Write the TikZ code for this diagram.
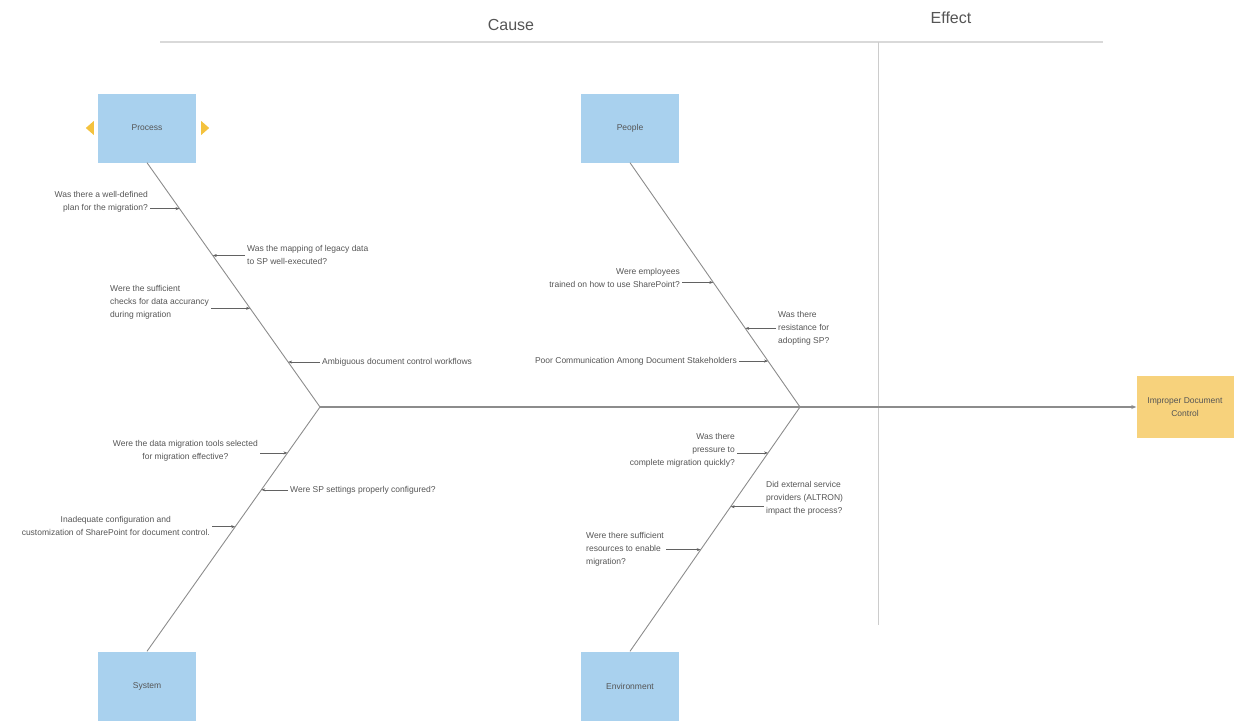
\documentclass[tikz,border=0pt]{standalone}
\usepackage{fontspec}
\setmainfont{Liberation Sans}
\usetikzlibrary{arrows.meta}
\definecolor{boxblue}{HTML}{A9D1EE}
\definecolor{boxorange}{HTML}{F7D27C}
\definecolor{tipyellow}{HTML}{F4C23E}
\definecolor{txtgray}{HTML}{555555}
\definecolor{linegray}{HTML}{8C8C8C}
\tikzset{
    catbox/.style={fill=boxblue,minimum width=98pt,minimum height=69pt,font=\fontsize{8.5}{13}\selectfont,text=txtgray},
    effbox/.style={fill=boxorange,minimum width=97pt,minimum height=62pt,align=center,font=\fontsize{8.5}{13}\selectfont,text=txtgray},
    causetext/.style={font=\fontsize{8.5}{13}\selectfont,text=txtgray,inner sep=2pt},
    headtext/.style={font=\fontsize{16}{18}\selectfont,text=txtgray},
    bone/.style={draw=linegray,line width=0.9pt},
    subarrow/.style={-{Stealth[length=4pt,width=3pt]},draw=linegray!70!black,line width=0.6pt}
}

\begin{document}
\begin{tikzpicture}[x=1pt,y=-1pt]
        \useasboundingbox (0,0) rectangle (1235,723);
        % header
        \draw[gray!30,line width=2.5pt] (160,42) -- (1103,42);
        \draw[gray!40,line width=0.8pt] (878,42) -- (878,625);
        \node[headtext] (cause) at (511,25) {Cause};
        \node[headtext] (effect) at (951,18) {Effect};

        % boxes
        \node[catbox] (proc) at (147,128) {Process};
        \node[catbox] (ppl) at (630,128) {People};
        \node[catbox] (sys) at (147,686) {System};
        \node[catbox] (env) at (630,686) {Environment};
        \node[effbox] (eff) at (1185,407) {Improper Document\\Control};
        \fill[tipyellow] ([xshift=-12pt]proc.west) -- ++(8,-7) -- ++(0,14) -- cycle; % left tip
        \fill[tipyellow] ([xshift=13pt]proc.east) -- ++(-8,-7) -- ++(0,14) -- cycle; % right tip

        % bones
        \coordinate (hubL) at (320,407);
        \coordinate (hubR) at (800,407);
        \draw[bone] (proc.south) -- coordinate[pos=0.188] (p1) coordinate[pos=0.380] (p2) coordinate[pos=0.596] (p3) coordinate[pos=0.816] (p4) (hubL);
        \draw[bone] (ppl.south) -- coordinate[pos=0.490] (q1) coordinate[pos=0.678] (q2) coordinate[pos=0.812] (q3) (hubR);
        \draw[bone] (hubL) -- coordinate[pos=0.188] (s1) coordinate[pos=0.339] (s2) coordinate[pos=0.490] (s3) (sys.north);
        \draw[bone] (hubR) -- coordinate[pos=0.188] (e1) coordinate[pos=0.408] (e2) coordinate[pos=0.584] (e3) (env.north);
        \draw[bone,line width=1.3pt,-{Stealth[length=5pt,width=4pt]}] (hubL) -- (eff.west);

        % process causes
        \node[causetext,align=right,anchor=east] (pt1) at (150,202) {Was there a well-defined\\plan for the migration?};
        \node[causetext,align=left,anchor=west] (pt2) at (245,255) {Was the mapping of legacy data\\to SP well-executed?};
        \node[causetext,align=left,anchor=west] (pt3) at (108,302) {Were the sufficient\\checks for data accurancy\\during migration};
        \node[causetext,anchor=west] (pt4) at (320,362) {Ambiguous document control workflows};

        % people causes
        \node[causetext,align=right,anchor=east] (qt1) at (682,278) {Were employees\\trained on how to use SharePoint?};
        \node[causetext,align=left,anchor=west] (qt2) at (776,328) {Was there\\resistance for\\adopting SP?};
        \node[causetext,anchor=east] (qt3) at (739,361) {Poor Communication Among Document Stakeholders};

        % system causes
        \node[causetext,align=center,anchor=east] (st1) at (260,451) {Were the data migration tools selected\\for migration effective?};
        \node[causetext,anchor=west] (st2) at (288,490) {Were SP settings properly configured?};
        \node[causetext,align=center,anchor=east] (st3) at (212,526) {Inadequate configuration and\\customization of SharePoint for document control.};

        % environment causes
        \node[causetext,align=right,anchor=east] (et1) at (737,450) {Was there\\pressure to\\complete migration quickly?};
        \node[causetext,align=left,anchor=west] (et2) at (764,498) {Did external service\\providers (ALTRON)\\impact the process?};
        \node[causetext,align=left,anchor=west] (et3) at (584,549) {Were there sufficient\\resources to enable\\migration?};

        %arrows
        \foreach \t/\c in {pt1/p1,pt3/p3,qt1/q1,qt3/q3,st1/s1,st3/s3,et1/e1,et3/e3}
            \draw[subarrow] (\t.east |- \c) -- (\c);
        \foreach \t/\c in {pt2/p2,pt4/p4,qt2/q2,st2/s2,et2/e2}
            \draw[subarrow] (\t.west |- \c) -- (\c);
\end{tikzpicture}
\end{document}
